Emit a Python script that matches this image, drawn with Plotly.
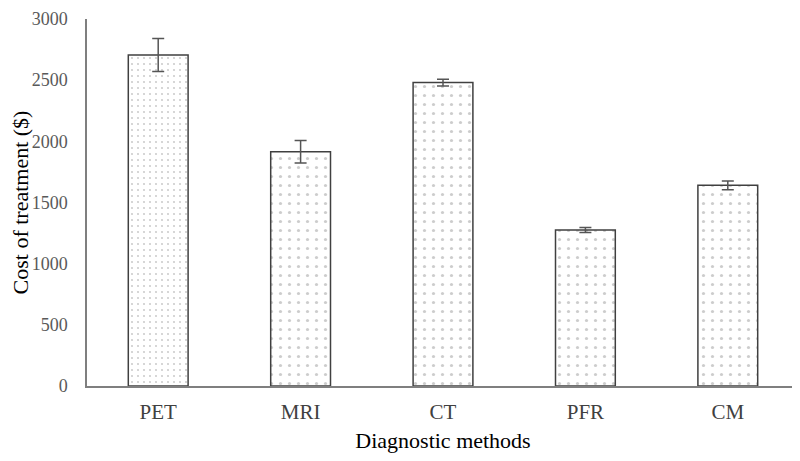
import plotly.graph_objects as go

# diagnostic methods and their mean treatment cost with error
methods = ["PET", "MRI", "CT", "PFR", "CM"]
cost = [2705, 1915, 2480, 1275, 1640]
cost_err = [135, 92, 28, 20, 35]

FONT = "Liberation Serif, Times New Roman, serif"

fig = go.Figure()

fig.add_trace(
    go.Bar(
        x=methods,
        y=cost,
        error_y=dict(type="data", array=cost_err, color="#555555", thickness=1.5, width=6),
        marker=dict(
            color="white",
            line=dict(color="#404040", width=1.5),
            # PET has a denser dot fill than the rest
            pattern=dict(
                shape=".",
                fgcolor="#9a9a9a",
                bgcolor="white",
                size=[6, 9, 9, 9, 9],
                solidity=0.1,
            ),
        ),
        showlegend=False,
    )
)

# page body keeps an 8px margin, so the figure is a bit smaller than the window
fig.update_layout(
    width=792,
    height=453,
    margin=dict(l=79, r=1, t=7, b=75),
    paper_bgcolor="white",
    plot_bgcolor="white",
    bargap=0.58,
    font=dict(family=FONT, color="#595959", size=18),
)

fig.update_xaxes(
    showline=True,
    linecolor="#7f7f7f",
    linewidth=1.5,
    showgrid=False,
    ticks="",
    ticklabelstandoff=6,
    tickfont=dict(size=21, color="#404040"),
    title=dict(text="Diagnostic methods", font=dict(size=22, color="black"), standoff=10),
)

fig.update_yaxes(
    range=[0, 3000],
    dtick=500,
    showline=True,
    linecolor="#7f7f7f",
    linewidth=1.5,
    showgrid=False,
    zeroline=False,
    ticks="",
    ticklabelstandoff=14,
    ticklabeloverflow="allow",
    tickfont=dict(size=18, color="#595959"),
    title=dict(text="Cost of treatment ($)", font=dict(size=22, color="black"), standoff=6),
)

fig.write_html("out.html")
